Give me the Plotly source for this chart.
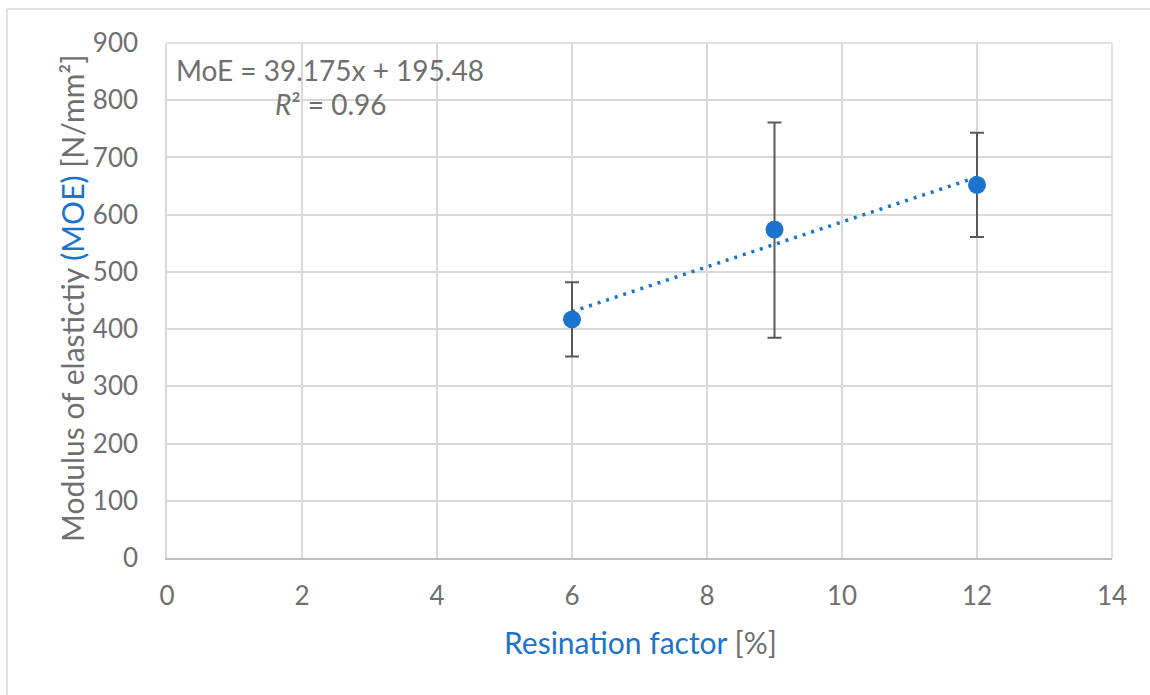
import plotly.graph_objects as go

# ---- data ----
resination = [6, 9, 12]
moe = [417, 574, 652]
err_plus = [65, 187, 91]
err_minus = [65, 189, 91]
slope = 39.175
intercept = 195.48
r2 = 0.96
x_ticks = [0, 2, 4, 6, 8, 10, 12, 14]
y_ticks = [0, 100, 200, 300, 400, 500, 600, 700, 800, 900]

BLUE = "#1a73cc"
GRAY = "#6f6f6f"
GRID = "#d9d9d9"
FONT = "Lato"

W, H = 1150, 695
L, R, T, B = 167, 38, 43, 137
PW, PH = W - L - R, H - T - B

def px(xp):
    return (xp - L) / PW

def py(yp):
    return (H - B - yp) / PH

fig = go.Figure()

trend_x = [min(resination), max(resination)]
trend_y = [slope * v + intercept for v in trend_x]
fig.add_trace(go.Scatter(
    x=trend_x, y=trend_y, mode="lines",
    line=dict(color=BLUE, width=3.5, dash="3px,6px"),
    hoverinfo="skip", showlegend=False))

fig.add_trace(go.Scatter(
    x=resination, y=moe, mode="markers",
    marker=dict(color=BLUE, size=18),
    error_y=dict(type="data", symmetric=False, array=err_plus, arrayminus=err_minus,
                 color="#595959", thickness=2, width=7),
    showlegend=False))

fig.update_layout(
    width=W, height=H,
    margin=dict(l=L, r=R, t=T, b=B),
    paper_bgcolor="white", plot_bgcolor="white",
    font=dict(family=FONT, color=GRAY, size=26),
    showlegend=False,
)
fig.update_xaxes(
    range=[0, 14], tickvals=x_ticks, ticktext=[str(v) for v in x_ticks],
    showgrid=True, gridcolor=GRID, gridwidth=1.5,
    showline=True, linecolor="#bfbfbf", linewidth=1.5,
    zeroline=False, ticks="", ticklabelstandoff=14,
    tickfont=dict(family=FONT, size=26, color=GRAY),
)
fig.update_yaxes(
    range=[0, 900], tickvals=y_ticks, ticktext=[str(v) for v in y_ticks],
    showgrid=True, gridcolor=GRID, gridwidth=1.5,
    showline=True, linecolor=GRID, linewidth=1.5, mirror=False,
    zeroline=False, ticks="", ticklabelstandoff=22,
    tickfont=dict(family=FONT, size=26, color=GRAY),
)

# right/top plot border (light grid style)
fig.add_shape(type="line", xref="paper", yref="paper", x0=0, x1=1, y0=1, y1=1,
              line=dict(color=GRID, width=1.5))
fig.add_shape(type="line", xref="paper", yref="paper", x0=1, x1=1, y0=0, y1=1,
              line=dict(color=GRID, width=1.5))

# chart outer frame (left and top edges visible)
fig.add_shape(type="line", xref="paper", yref="paper",
              x0=px(7), x1=px(7), y0=py(9), y1=py(720),
              line=dict(color=GRID, width=1.5))
fig.add_shape(type="line", xref="paper", yref="paper",
              x0=px(7), x1=px(1160), y0=py(9), y1=py(9),
              line=dict(color=GRID, width=1.5))

fig.add_annotation(xref="paper", yref="paper", x=px(174), y=py(70),
                   xanchor="left", yanchor="middle", showarrow=False,
                   text=f"MoE = {slope}x + {intercept}",
                   font=dict(family=FONT, size=28, color=GRAY))
fig.add_annotation(xref="paper", yref="paper", x=px(331), y=py(104),
                   xanchor="center", yanchor="middle", showarrow=False,
                   text=f"<i>R</i>² = {r2}",
                   font=dict(family=FONT, size=28, color=GRAY))

fig.add_annotation(xref="paper", yref="paper", x=px(72), y=py(298),
                   xanchor="center", yanchor="middle", showarrow=False, textangle=-90,
                   text=f"Modulus of elastictiy <span style='color:{BLUE}'>(MOE)</span> [N/mm²]",
                   font=dict(family=FONT, size=30, color=GRAY))
fig.add_annotation(xref="paper", yref="paper", x=px(640), y=py(642),
                   xanchor="center", yanchor="middle", showarrow=False,
                   text=f"<span style='color:{BLUE}'>Resination factor</span> [%]",
                   font=dict(family=FONT, size=30, color=GRAY))

fig.write_html("out.html")
